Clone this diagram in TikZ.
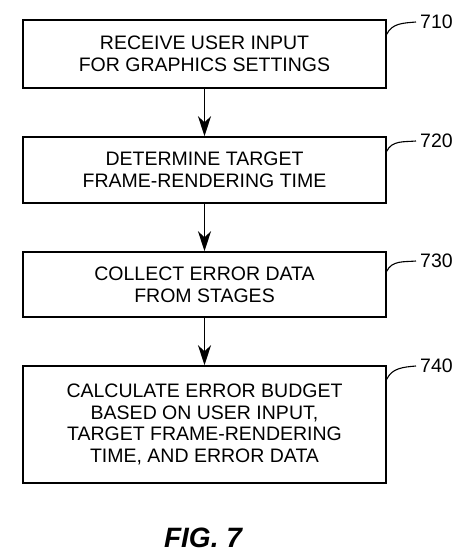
\documentclass[tikz,border=0pt]{standalone}
\usepackage{fontspec}
\setmainfont{Liberation Sans}
\usetikzlibrary{arrows.meta}
\tikzset{
  stepbox/.style={draw, line width=1.5pt, minimum width=363pt, inner sep=0pt,
    align=center, font=\fontsize{19.5}{21.7}\selectfont},
  reflabel/.style={anchor=west, inner sep=0pt, font=\fontsize{19.5}{21.7}\selectfont},
  flow/.style={-{Stealth[length=20pt,width=13pt,inset=6pt]}, line width=1.6pt},
  leader/.style={line width=1.1pt}
}
\begin{document}
\begin{tikzpicture}[x=1pt,y=-1pt]
\useasboundingbox (0,0) rectangle (471,554);
% steps
\node[stepbox, minimum height=68pt] (s710) at (204.5,54) {RECEIVE USER INPUT\\FOR GRAPHICS SETTINGS};
\node[stepbox, minimum height=66pt] (s720) at (204.5,170) {DETERMINE TARGET\\FRAME-RENDERING TIME};
\node[stepbox, minimum height=65pt] (s730) at (204.5,284.5) {COLLECT ERROR DATA\\FROM STAGES};
\node[stepbox, minimum height=117pt] (s740) at (204.5,424.5) {CALCULATE ERROR BUDGET\\BASED ON USER INPUT,\\TARGET FRAME-RENDERING\\TIME, AND ERROR DATA};
% arrows
\draw[flow] (s710) -- (s720);
\draw[flow] (s720) -- (s730);
\draw[flow] (s730) -- (s740);
% reference numerals
\node[reflabel] (n710) at (420,22) {710};
\node[reflabel] (n720) at (420,141) {720};
\node[reflabel] (n730) at (420,261) {730};
\node[reflabel] (n740) at (420,366) {740};
\draw[leader] ([yshift=-15pt]s710.north east) to[out=65,in=185] ([xshift=-4pt]n710.west);
\draw[leader] ([yshift=-15pt]s720.north east) to[out=65,in=185] ([xshift=-4pt]n720.west);
\draw[leader] ([yshift=-20pt]s730.north east) to[out=65,in=185] ([xshift=-4pt]n730.west);
\draw[leader] ([yshift=-14pt]s740.north east) to[out=65,in=185] ([xshift=-4pt]n740.west);
% caption
\node[font=\fontsize{28}{30}\selectfont\bfseries\itshape] (fig) at (203,538) {FIG. 7};
\end{tikzpicture}
\end{document}
